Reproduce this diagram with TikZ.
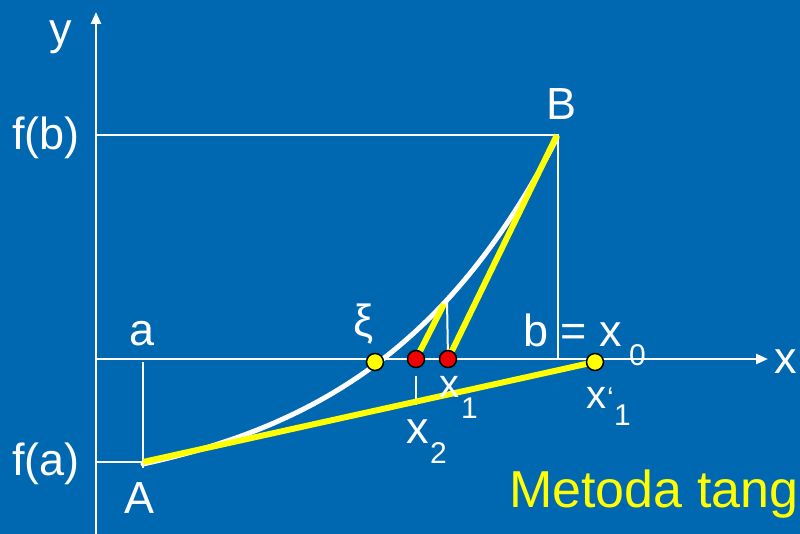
\documentclass[tikz,border=0pt]{standalone}
\usepackage{fontspec}
\setmainfont{Liberation Sans}
\usetikzlibrary{arrows.meta}
\definecolor{bg}{RGB}{0,103,177}
\definecolor{yel}{RGB}{255,255,0}
\definecolor{dotred}{RGB}{240,0,0}
\begin{document}
\begin{tikzpicture}[x=1pt,y=-1pt,
  thinline/.style={draw=white,line width=2pt},
  axis/.style={draw=white,line width=2.5pt,-{Triangle[length=12pt,width=10pt]}},
  curve/.style={draw=white,line width=5pt,line cap=round},
  yline/.style={draw=yel,line width=6pt},
  dot/.style={circle,draw=black,line width=1.5pt,minimum size=17pt,inner sep=0pt},
  reddot/.style={dot,fill=dotred},
  yeldot/.style={dot,fill=yel},
  lab/.style={text=white,inner sep=0pt,anchor=base west,font=\fontsize{45}{54}\selectfont},
  midlab/.style={lab,font=\fontsize{40}{48}\selectfont},
  sublab/.style={lab,font=\fontsize{30}{36}\selectfont},
  title/.style={text=yel,inner sep=0pt,anchor=base west,font=\fontsize{52}{60}\selectfont}
]
\fill[bg] (0,0) rectangle (800,534);
\useasboundingbox (0,0) rectangle (800,534);

% coordinates
\coordinate (O) at (96,359);
\coordinate (ytop) at (96,12);
\coordinate (ybot) at (96,534);
\coordinate (xend) at (768,359);
\coordinate (A) at (143,462);
\coordinate (B) at (557,135);
\coordinate (fb) at (96,135);
\coordinate (bx) at (558,359);
\coordinate (fa) at (96,462);
\coordinate (atop) at (143,362);
\coordinate (abot) at (143,468);
\coordinate (P1) at (447,300);
\coordinate (P2) at (444,304);
\coordinate (t2a) at (416,376);
\coordinate (t2b) at (416,405);
\coordinate (xic) at (375,362);
\coordinate (x2c) at (416,359);
\coordinate (x1c) at (448,359);
\coordinate (x1pc) at (595,362);

% axes and guide lines
\draw[axis] (ybot) -- (ytop);
\draw[axis] (O) -- (xend);
\draw[thinline] (fb) -- (558,135) -- (bx);
\draw[thinline] (fa) -- (A);
\draw[thinline] (atop) -- (abot);
\draw[thinline] (x1c) -- (P1);
\draw[thinline] (t2a) -- (t2b);

% curve (convex, tangent to the yellow chord at A)
\draw[curve] plot[domain=0:414,samples=90,variable=\u] ({143+\u},{464-41*(exp(0.0053*\u)-1)});

% yellow lines
\draw[yline] (A) -- (x1pc);
\draw[yline] (B) -- (x1c);
\draw[yline] (P2) -- (x2c);

% dots
\node[yeldot] (xi) at (xic) {};
\node[reddot] (x2) at (x2c) {};
\node[reddot] (x1) at (x1c) {};
\node[yeldot] (x1p) at (x1pc) {};

% labels
\node[lab] (ly) at (49,45) {y};
\node[lab] (lfb) at (12,150) {f(b)};
\node[lab] (la) at (129,345) {a};
\node[lab] (lfa) at (12,475) {f(a)};
\node[lab] (lA) at (124,513) {A};
\node[lab] (lB) at (546,120) {B};
\node[lab,anchor=base] (lxi) at (364,337) {ξ};
\node[lab] (lb) at (523,347) {b = x};
\node[sublab] (lb0) at (629,365) {0};
\node[lab] (lx) at (774,373) {x};
\node[midlab] (lx1) at (439,397) {x};
\node[sublab] (lx1s) at (461,418) {1};
\node[midlab] (lx1p) at (586,408) {x};
\node[sublab] (lx1pq) at (607,408) {‘};
\node[sublab] (lx1ps) at (614,425) {1};
\node[lab] (lx2) at (406,443) {x};
\node[sublab] (lx2s) at (430,463) {2};
\node[title] (ttl) at (509,507) {Metoda tang};
\end{tikzpicture}
\end{document}
